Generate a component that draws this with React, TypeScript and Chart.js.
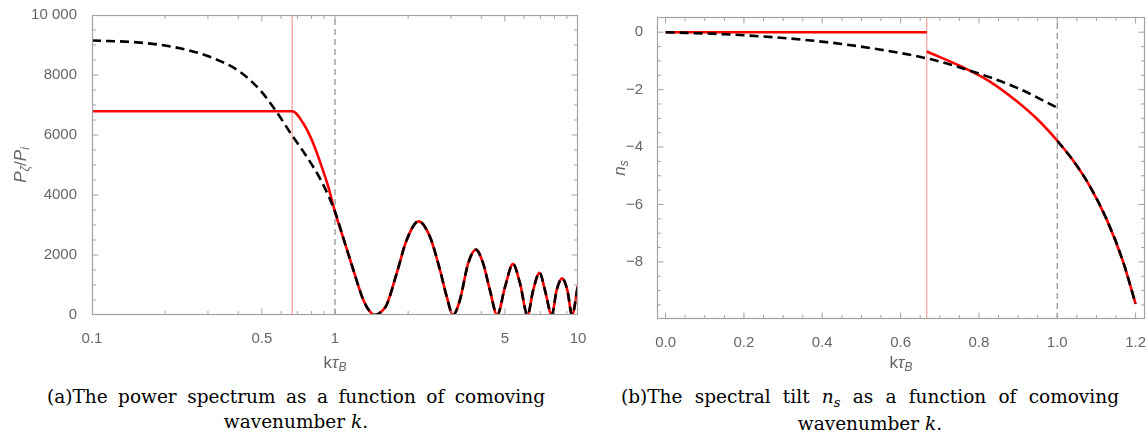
import React, { useEffect, useRef } from "react";
import { Chart, registerables } from "chart.js";

Chart.register(...registerables);

// ---------- Panel (a): power spectrum P_zeta / P_i vs k tau_B (log x) ----------
const leftXTicks = [0.1, 0.5, 1, 5, 10];
const leftXTickLabels = ["0.1", "0.5", "1", "5", "10"];
const leftXMinor = [0.2, 0.3, 0.4, 0.6, 0.7, 0.8, 0.9, 2, 3, 4, 6, 7, 8, 9];
const leftYTicks = [0, 2000, 4000, 6000, 8000, 10000];
const leftYTickLabels = ["0", "2000", "4000", "6000", "8000", "10 000"];
const leftYMinor = [500, 1000, 1500, 2500, 3000, 3500, 4500, 5000, 5500, 6500, 7000, 7500, 8500, 9000, 9500];

// analytic (black dashed) branch for k < 1
const leftDashK = [0.1, 0.158, 0.23, 0.316, 0.406, 0.491, 0.566, 0.664, 0.765, 0.882];
const leftDashP = [9150, 9080, 8890, 8560, 8110, 7500, 6850, 6000, 5280, 4440];
// numerical (red) branch for k < 1
const leftRedK = [0.1, 0.667, 0.74, 0.814, 0.882, 0.938];
const leftRedP = [6790, 6790, 6390, 5720, 4940, 4280];
// common oscillating part, k >= 1
const oscK = [1.0, 1.099, 1.19, 1.308, 1.39, 1.455, 1.55, 1.632, 1.794, 1.972, 2.21, 2.459, 2.704, 2.883, 3.06, 3.266, 3.532, 3.8, 4.07, 4.34, 4.65, 5.01, 5.4, 5.77, 6.2, 6.54, 6.95, 7.31, 7.8, 8.17, 8.6, 9.04, 9.45, 10];
const oscP = [3440, 2390, 1500, 500, 120, 0, 110, 340, 1390, 2500, 3120, 2610, 1500, 610, 0, 500, 1720, 2180, 1720, 830, 0, 940, 1700, 1060, 0, 830, 1410, 830, 0, 830, 1220, 830, 0, 1000];
// vertical markers
const leftMarkerK = [2 / 3, 1];

// ---------- Panel (b): spectral tilt n_s vs k tau_B ----------
const rightXTicks = [0, 0.2, 0.4, 0.6, 0.8, 1.0, 1.2];
const rightXTickLabels = ["0.0", "0.2", "0.4", "0.6", "0.8", "1.0", "1.2"];
const rightXMinor = [0.05, 0.1, 0.15, 0.25, 0.3, 0.35, 0.45, 0.5, 0.55, 0.65, 0.7, 0.75, 0.85, 0.9, 0.95, 1.05, 1.1, 1.15];
const rightYTicks = [0, -2, -4, -6, -8];
const rightYTickLabels = ["0", "\u22122", "\u22124", "\u22126", "\u22128"];
const rightYMinor = [0.5, -0.5, -1, -1.5, -2.5, -3, -3.5, -4.5, -5, -5.5, -6.5, -7, -7.5, -8.5, -9, -9.5];

const rightDashK = [0, 0.15, 0.25, 0.35, 0.45, 0.55, 0.667, 0.759, 0.896, 1.0];
const rightDashN = [0, -0.07, -0.15, -0.26, -0.41, -0.61, -0.91, -1.26, -1.93, -2.63];
const rightFlatK = [0, 0.667];
const rightFlatN = [0, 0];
const rightRedK = [0.667, 0.759, 0.828, 0.896, 0.955, 1.0, 1.04, 1.083, 1.126, 1.168, 1.2];
const rightRedN = [-0.67, -1.22, -1.72, -2.40, -3.11, -3.78, -4.46, -5.36, -6.52, -7.99, -9.46];
const rightMarkerK = [2 / 3, 1];

// ---------- styling ----------
const TICK_COLOR = "#666666";
const FRAME_COLOR = "#a3a3a3";
const SANS = '"Liberation Sans", Arial, sans-serif';
const tickFont = { family: SANS, size: 15 };

type Pt = { x: number; y: number | null };
const toXY = (xs: number[], ys: (number | null)[]): Pt[] => xs.map((x, i) => ({ x, y: ys[i] }));
const GAP = (x: number): Pt => ({ x, y: null });

type Run = { text: string; font: string; dy?: number };

function drawRuns(ctx: CanvasRenderingContext2D, runs: Run[], cx: number, cy: number) {
  let total = 0;
  const widths = runs.map((r) => {
    ctx.font = r.font;
    const w = ctx.measureText(r.text).width;
    total += w;
    return w;
  });
  let x = cx - total / 2;
  ctx.textBaseline = "middle";
  ctx.textAlign = "left";
  runs.forEach((r, i) => {
    ctx.font = r.font;
    ctx.fillText(r.text, x, cy + (r.dy || 0));
    x += widths[i];
  });
}

const framePlugin = {
  id: "mmaFrame",
  afterDatasetsDraw(chart: any, _args: any, opts: any) {
    const { ctx, chartArea: a, scales } = chart;
    const xs = scales.x;
    const ys = scales.y;
    const l = Math.round(a.left) + 0.5;
    const r = Math.round(a.right) - 0.5;
    const t = Math.round(a.top) + 0.5;
    const b = Math.round(a.bottom) - 0.5;
    ctx.save();
    ctx.strokeStyle = FRAME_COLOR;
    ctx.lineWidth = 1.2;
    ctx.strokeRect(l, t, r - l, b - t);
    const tick = (vals: number[], len: number, axis: "x" | "y") => {
      vals.forEach((v) => {
        if (axis === "x") {
          const p = xs.getPixelForValue(v);
          if (p < a.left + 1 || p > a.right - 1) return;
          ctx.beginPath();
          ctx.moveTo(p, b);
          ctx.lineTo(p, b - len);
          ctx.moveTo(p, t);
          ctx.lineTo(p, t + len);
          ctx.stroke();
        } else {
          const p = ys.getPixelForValue(v);
          if (p < a.top + 1 || p > a.bottom - 1) return;
          ctx.beginPath();
          ctx.moveTo(l, p);
          ctx.lineTo(l + len, p);
          ctx.moveTo(r, p);
          ctx.lineTo(r - len, p);
          ctx.stroke();
        }
      });
    };
    ctx.lineWidth = 1;
    tick(opts.xMajor, 6, "x");
    tick(opts.xMinor, 3.5, "x");
    tick(opts.yMajor, 6, "y");
    tick(opts.yMinor, 3.5, "y");

    ctx.fillStyle = TICK_COLOR;
    drawRuns(ctx, opts.xTitle, (a.left + a.right) / 2, opts.xTitleY);
    ctx.save();
    ctx.translate(opts.yTitleX, (a.top + a.bottom) / 2);
    ctx.rotate(-Math.PI / 2);
    drawRuns(ctx, opts.yTitle, 0, 0);
    ctx.restore();
    ctx.restore();
  },
};

const xTitleRuns: Run[] = [
  { text: "k", font: `17px ${SANS}` },
  { text: "\u03c4", font: `italic 17px ${SANS}` },
  { text: "B", font: `italic 12px ${SANS}`, dy: 5 },
];

function baseScale(extra: any, labels: string[], ticksArr: number[], fitKey: "x" | "y", fitSize: number, padding: number) {
  return {
    ...extra,
    afterBuildTicks: (s: any) => {
      s.ticks = ticksArr.map((v) => ({ value: v }));
    },
    afterFit: (s: any) => {
      if (fitKey === "x") s.height = fitSize;
      else s.width = fitSize;
      s.paddingLeft = 0;
      s.paddingRight = 0;
      s.paddingTop = 0;
      s.paddingBottom = 0;
    },
    ticks: {
      autoSkip: false,
      maxRotation: 0,
      minRotation: 0,
      padding,
      color: TICK_COLOR,
      font: tickFont,
      callback: (_v: any, i: number) => labels[i],
    },
    grid: { display: false },
    border: { display: false },
  };
}

function lineDs(label: string, data: Pt[], color: string, width: number, dash: number[] = [], smooth = true) {
  return {
    label,
    data,
    borderColor: color,
    backgroundColor: color,
    borderWidth: width,
    borderDash: dash,
    pointRadius: 0,
    fill: false,
    spanGaps: false,
    cubicInterpolationMode: smooth ? "monotone" : "default",
    tension: 0,
    borderCapStyle: "butt",
  };
}

function leftConfig(): any {
  const yMin = 0;
  const yMax = 10000;
  return {
    type: "line",
    data: {
      datasets: [
        lineDs("analytic", [...toXY(leftDashK, leftDashP), ...toXY(oscK, oscP)], "#000000", 2.6, [9, 5]),
        lineDs("numerical", [...toXY(leftRedK, leftRedP), ...toXY(oscK, oscP)], "#ff0000", 2.6),
        lineDs("k=2/3", toXY([leftMarkerK[0], leftMarkerK[0]], [yMin, yMax]), "rgba(255,60,60,0.5)", 1.2, [], false),
        lineDs("k=1", toXY([leftMarkerK[1], leftMarkerK[1]], [yMin, yMax]), "#8e8e8e", 1.2, [6, 4], false),
      ],
    },
    options: {
      responsive: false,
      animation: false,
      devicePixelRatio: 1,
      events: [],
      layout: { padding: { top: 15, right: 12, left: 0, bottom: 0 } },
      plugins: {
        legend: { display: false },
        tooltip: { enabled: false },
        mmaFrame: {
          xMajor: leftXTicks,
          xMinor: leftXMinor,
          yMajor: leftYTicks,
          yMinor: leftYMinor,
          xTitle: xTitleRuns,
          xTitleY: 363,
          yTitleX: 21,
          yTitle: [
            { text: "P", font: `italic 17px ${SANS}` },
            { text: "\u03b6", font: `italic 12px ${SANS}`, dy: 5 },
            { text: "/", font: `17px ${SANS}` },
            { text: "P", font: `italic 17px ${SANS}` },
            { text: "i", font: `italic 12px ${SANS}`, dy: 5 },
          ],
        },
      },
      scales: {
        x: baseScale({ type: "logarithmic", min: 0.1, max: 10 }, leftXTickLabels, leftXTicks, "x", 65, 7),
        y: baseScale({ type: "linear", min: yMin, max: yMax }, leftYTickLabels, leftYTicks, "y", 92, 7),
      },
    },
    plugins: [framePlugin],
  };
}

function rightConfig(): any {
  const yMin = -9.99;
  const yMax = 0.53;
  const blackData = [...toXY(rightDashK, rightDashN), GAP(1.0), ...toXY(rightRedK.slice(5), rightRedN.slice(5))];
  const redData = [...toXY(rightFlatK, rightFlatN), GAP(0.667), ...toXY(rightRedK, rightRedN)];
  return {
    type: "line",
    data: {
      datasets: [
        lineDs("analytic", blackData, "#000000", 2.6, [9, 5]),
        lineDs("numerical", redData, "#ff0000", 2.6),
        lineDs("k=2/3", toXY([rightMarkerK[0], rightMarkerK[0]], [yMin, yMax]), "rgba(255,60,60,0.5)", 1.2, [], false),
        lineDs("k=1", toXY([rightMarkerK[1], rightMarkerK[1]], [yMin, yMax]), "#8e8e8e", 1.2, [6, 4], false),
      ],
    },
    options: {
      responsive: false,
      animation: false,
      devicePixelRatio: 1,
      events: [],
      layout: { padding: { top: 17, right: 3, left: 0, bottom: 0 } },
      plugins: {
        legend: { display: false },
        tooltip: { enabled: false },
        mmaFrame: {
          xMajor: rightXTicks,
          xMinor: rightXMinor,
          yMajor: rightYTicks,
          yMinor: rightYMinor,
          xTitle: xTitleRuns,
          xTitleY: 363,
          yTitleX: 30,
          yTitle: [
            { text: "n", font: `italic 17px ${SANS}` },
            { text: "s", font: `italic 12px ${SANS}`, dy: 5 },
          ],
        },
      },
      scales: {
        x: baseScale({ type: "linear", min: -0.022, max: 1.224 }, rightXTickLabels, rightXTicks, "x", 61, 7),
        y: baseScale({ type: "linear", min: yMin, max: yMax }, rightYTickLabels, rightYTicks, "y", 67, 6),
      },
    },
    plugins: [framePlugin],
  };
}

const SERIF = '"DejaVu Serif", "Liberation Serif", serif';

function Caption({ left, first, children }: { left: number; first: React.ReactNode; children: React.ReactNode }) {
  return (
    <div
      style={{
        position: "absolute",
        left,
        top: 384,
        width: 498,
        fontFamily: SERIF,
        fontSize: 18.5,
        lineHeight: "25px",
        color: "#000",
      }}
    >
      <div style={{ textAlign: "justify", textAlignLast: "justify" }}>{first}</div>
      <div style={{ textAlign: "center", whiteSpace: "nowrap" }}>{children}</div>
    </div>
  );
}

export default function App() {
  const leftRef = useRef<HTMLCanvasElement>(null);
  const rightRef = useRef<HTMLCanvasElement>(null);

  useEffect(() => {
    const c1 = new Chart(leftRef.current as HTMLCanvasElement, leftConfig());
    const c2 = new Chart(rightRef.current as HTMLCanvasElement, rightConfig());
    return () => {
      c1.destroy();
      c2.destroy();
    };
  }, []);

  return (
    <div style={{ position: "absolute", left: 0, top: 0, width: 1148, height: 432, background: "#fff", overflow: "hidden" }}>
      <canvas ref={leftRef} width={590} height={380} style={{ position: "absolute", left: 0, top: 0, width: 590, height: 380 }} />
      <canvas ref={rightRef} width={558} height={380} style={{ position: "absolute", left: 590, top: 0, width: 558, height: 380 }} />
      <Caption left={47} first={<>(a)The power spectrum as a function of comoving</>}>
        wavenumber <i>k</i>.
      </Caption>
      <Caption
        left={621}
        first={
          <>
            (b)The spectral tilt <i>n</i>
            <span style={{ fontSize: 13, position: "relative", top: 4, fontStyle: "italic" }}>s</span> as a function of comoving
          </>
        }
      >
        wavenumber <i>k</i>.
      </Caption>
    </div>
  );
}
